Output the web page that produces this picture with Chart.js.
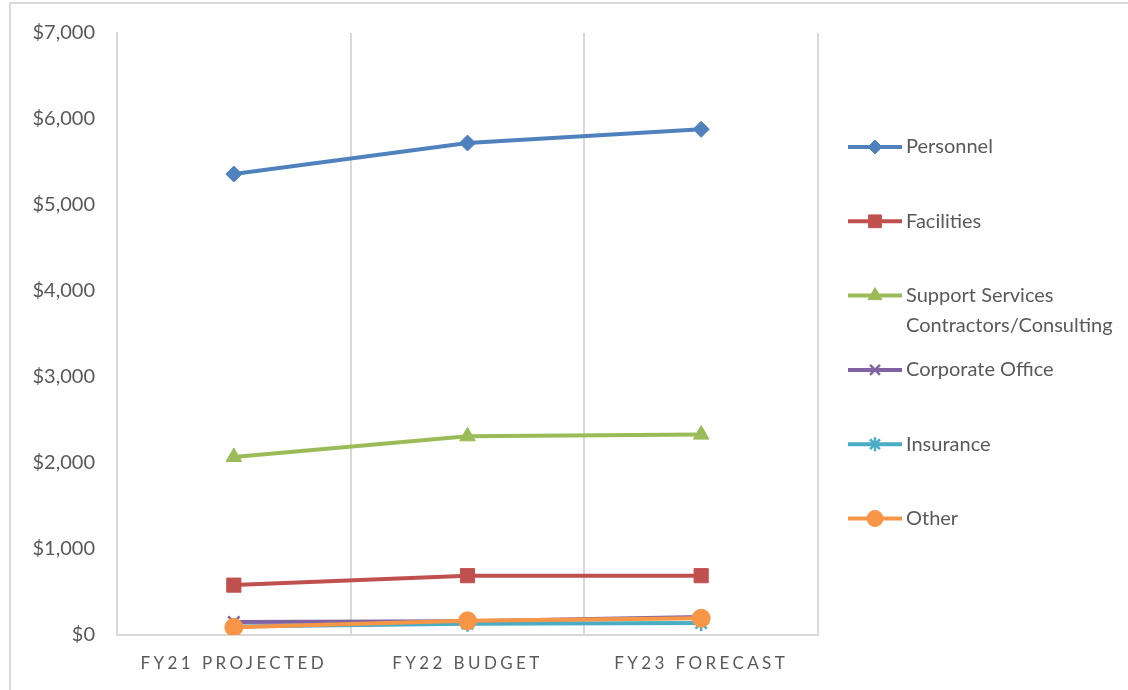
<!DOCTYPE html>
<html>
<head>
<meta charset="utf-8">
<script src="https://cdn.jsdelivr.net/npm/chart.js@4/dist/chart.umd.min.js"></script>
<style>
  html, body { margin: 0; padding: 0; background: #fff; overflow: hidden; }
  #wrap { position: absolute; left: 0; top: 0; width: 1128px; height: 690px; overflow: hidden; }
  #frame { position: absolute; left: 9px; top: 2px; width: 1140px; height: 700px;
           border-left: 2px solid #d9d9d9; border-top: 2px solid #d9d9d9; }
  #chLines { position: absolute; left: 0; top: 0; }
</style>
</head>
<body>
<div id="wrap">
  <div id="frame"></div>
  <canvas id="chLines" width="1128" height="690"></canvas>
</div>
<script>
var categories = ['FY21 PROJECTED', 'FY22 BUDGET', 'FY23 FORECAST'];

var seriesNames = ['Personnel', 'Facilities', 'Support Services Contractors/Consulting', 'Corporate Office', 'Insurance', 'Other'];

var personnel = [5360, 5720, 5880];
var facilities = [580, 690, 690];
var supportServices = [2070, 2310, 2330];
var corporateOffice = [150, 160, 210];
var insurance = [100, 130, 140];
var other = [90, 165, 195];

var yTicks = [0, 1000, 2000, 3000, 4000, 5000, 6000, 7000];

var colors = ['#4f81bd', '#c0504d', '#9bbb59', '#8064a2', '#4bacc6', '#f79646'];
var markers = ['rectRot', 'rect', 'triangle', 'crossRot', 'star', 'circle'];
var markerSizes = [8, 10, 9, 8, 8, 9];

var values = [personnel, facilities, supportServices, corporateOffice, insurance, other];
var fontFamily = 'Lato, "Open Sans", sans-serif';
var textColor = '#595959';

var datasets = values.map(function (v, i) {
  var thin = markers[i] === 'crossRot' || markers[i] === 'star';
  return {
    label: seriesNames[i],
    data: v,
    order: values.length - i, // later series drawn on top, like the original
    borderColor: colors[i],
    backgroundColor: colors[i],
    borderWidth: 4,
    pointStyle: markers[i],
    pointRadius: markerSizes[i],
    pointBorderWidth: thin ? 2.5 : 1,
    pointBorderColor: colors[i],
    pointBackgroundColor: colors[i],
    tension: 0
  };
});

function wrapText(ctx, text, maxWidth) {
  var words = text.split(' ');
  var lines = [];
  var line = '';
  words.forEach(function (w) {
    var test = line ? line + ' ' + w : w;
    if (ctx.measureText(test).width > maxWidth && line) {
      lines.push(line);
      line = w;
    } else {
      line = test;
    }
  });
  if (line) lines.push(line);
  return lines;
}

var sideLegend = {
  id: 'sideLegend',
  afterDraw: function (chart) {
    var ctx = chart.ctx;
    var area = chart.chartArea;
    ctx.save();
    ctx.font = '20px ' + fontFamily;
    ctx.textBaseline = 'middle';
    ctx.textAlign = 'left';
    var x0 = area.right + 30;
    var y = area.top + 114;
    chart.data.datasets.forEach(function (ds) {
      ctx.strokeStyle = ds.borderColor;
      ctx.lineWidth = 4;
      ctx.beginPath();
      ctx.moveTo(x0, y);
      ctx.lineTo(x0 + 54, y);
      ctx.stroke();
      ctx.fillStyle = ds.borderColor;
      ctx.lineWidth = ds.pointBorderWidth;
      Chart.helpers.drawPoint(ctx, {
        pointStyle: ds.pointStyle,
        radius: ds.pointRadius - 1,
        borderWidth: ds.pointBorderWidth,
        rotation: 0
      }, x0 + 27, y);
      ctx.fillStyle = textColor;
      var lines = wrapText(ctx, ds.label, 190);
      lines.forEach(function (ln, k) {
        ctx.fillText(ln, x0 + 58, y + k * 30);
      });
      y += 74.3;
    });
    ctx.restore();
  }
};

var spacedLabels = {
  id: 'spacedLabels',
  beforeDraw: function (chart) {
    var sc = chart.scales.x;
    if (sc._spaced) return;
    var orig = sc.drawLabels;
    sc.drawLabels = function (area) {
      var ctx = this.ctx;
      ctx.save();
      ctx.letterSpacing = '3.4px';
      orig.call(this, area);
      ctx.restore();
    };
    sc._spaced = true;
  }
};

var chLines = document.getElementById('chLines');
new Chart(chLines, {
  type: 'line',
  data: {
    labels: categories,
    datasets: datasets
  },
  options: {
    responsive: false,
    animation: false,
    layout: {
      padding: { top: 33, right: 310, left: 0, bottom: 0 }
    },
    plugins: {
      legend: { display: false },
      tooltip: { enabled: false }
    },
    scales: {
      x: {
        offset: true,
        grid: {
          offset: true,
          color: '#d9d9d9',
          lineWidth: 2,
          drawTicks: false
        },
        border: { color: '#d9d9d9', width: 2 },
        ticks: {
          color: textColor,
          font: { family: fontFamily, size: 17 },
          padding: 18,
          maxRotation: 0
        },
        afterFit: function (scale) { scale.height = 55; }
      },
      y: {
        min: 0,
        max: 7000,
        afterBuildTicks: function (scale) {
          scale.ticks = yTicks.map(function (v) { return { value: v }; });
        },
        grid: { display: false },
        border: { color: '#d9d9d9', width: 2 },
        ticks: {
          color: textColor,
          font: { family: fontFamily, size: 20 },
          padding: 14,
          callback: function (v) { return '$' + v.toLocaleString('en-US'); }
        },
        afterFit: function (scale) { scale.width = 117; }
      }
    }
  },
  plugins: [sideLegend, spacedLabels]
});
</script>
</body>
</html>
